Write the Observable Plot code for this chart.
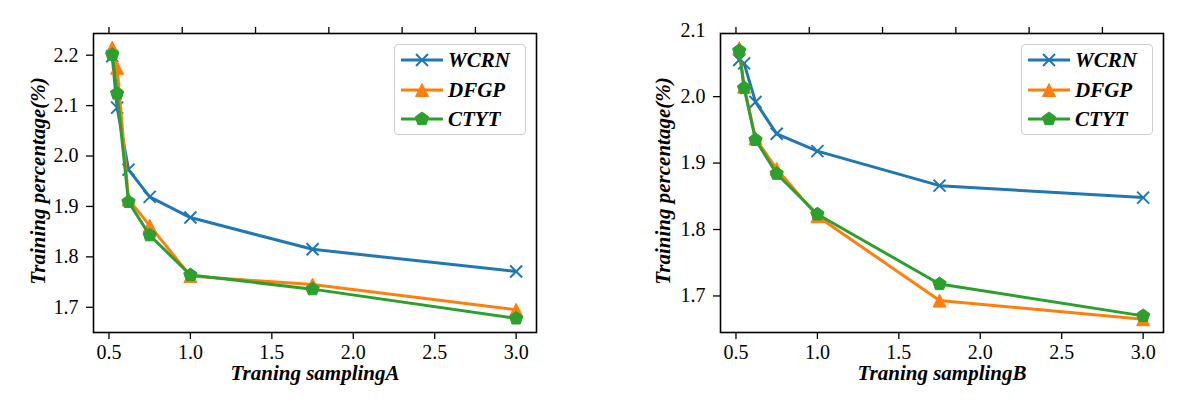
<!DOCTYPE html>
<html>
<head>
<meta charset="utf-8">
<script src="https://cdn.jsdelivr.net/npm/d3@7"></script>
<script src="https://cdn.jsdelivr.net/npm/@observablehq/plot@0.6"></script>
<style>
  html, body { margin: 0; padding: 0; background: white; }
  #wrap { position: relative; width: 1186px; height: 416px; overflow: hidden; }
  .panel { position: absolute; top: 0; width: 593px; height: 416px; }
  .panel svg text { font-family: "Liberation Serif", "Times New Roman", serif; }
  .panel svg g[aria-label*="tick label"] text, .panel svg g[aria-label*="tick label"] { font-size: 20px; font-family: "Liberation Serif", "Times New Roman", serif; font-variant: normal; }
  .legend { position: absolute; box-sizing: border-box; width: 132px; height: 91px; top: 44px;
            border: 1px solid #cfcfcf; border-radius: 4px; background: rgba(255,255,255,0.85); }
  .legend .row { position: absolute; left: 6px; height: 22px; display: flex; align-items: center; }
  .legend .row span { font-family: "Liberation Serif", "Times New Roman", serif; font-weight: bold; font-style: italic;
                      font-size: 21px; margin-left: 5px; line-height: 22px; color: black; }
</style>
</head>
<body>
<div id="wrap"></div>
<script>
// ---------------- data ----------------
const seriesNames = ["WCRN", "DFGP", "CTYT"];
const seriesColors = ["#1f77b4", "#ff7f0e", "#2ca02c"];

const samplingX = [0.52, 0.55, 0.62, 0.75, 1.0, 1.75, 3.0];

const wcrnA = [2.198, 2.096, 1.973, 1.919, 1.878, 1.815, 1.771];
const dfgpA = [2.215, 2.175, 1.914, 1.862, 1.762, 1.745, 1.695];
const ctytA = [2.201, 2.124, 1.909, 1.843, 1.764, 1.736, 1.678];

const wcrnB = [2.055, 2.050, 1.992, 1.944, 1.918, 1.866, 1.848];
const dfgpB = [2.073, 2.015, 1.937, 1.891, 1.820, 1.693, 1.665];
const ctytB = [2.069, 2.013, 1.935, 1.884, 1.823, 1.718, 1.670];

const xTicks = [0.5, 1.0, 1.5, 2.0, 2.5, 3.0];
const topTicks = [0.5, 0.95, 1.4, 1.85, 2.3, 2.75];
const yTicksA = [1.7, 1.8, 1.9, 2.0, 2.1, 2.2];
const yTickMarksB = [1.7, 1.8, 1.9, 2.0];
const yTickLabelsB = [1.7, 1.8, 1.9, 2.0, 2.1];

const yTitle = "Training percentage(%)";
const xTitleA = "Traning samplingA";
const xTitleB = "Traning samplingB";

// ---------------- symbols ----------------
const crossSym = { draw(ctx, size) { const r = Math.sqrt(size / Math.PI);
  ctx.moveTo(-r, -r); ctx.lineTo(r, r); ctx.moveTo(-r, r); ctx.lineTo(r, -r); } };
const triSym = { draw(ctx, size) { const r = Math.sqrt(size / Math.PI);
  ctx.moveTo(0, -r); ctx.lineTo(-r, r); ctx.lineTo(r, r); ctx.closePath(); } };
const pentSym = { draw(ctx, size) { const r = Math.sqrt(size / Math.PI);
  for (let k = 0; k < 5; k++) { const a = (-90 + 72 * k) * Math.PI / 180;
    const px = r * Math.cos(a), py = r * Math.sin(a);
    if (k === 0) ctx.moveTo(px, py); else ctx.lineTo(px, py); } ctx.closePath(); } };
const symbols = [crossSym, triSym, pentSym];

const serif = "Liberation Serif";

function seriesMarks(valuesList) {
  const marks = [];
  valuesList.forEach((vals, s) => {
    const rows = samplingX.map((x, i) => ({ x, y: vals[i] }));
    const c = seriesColors[s];
    marks.push(Plot.line(rows, { x: "x", y: "y", stroke: c, strokeWidth: 3 }));
    if (s === 0) {
      marks.push(Plot.dot(rows, { x: "x", y: "y", symbol: symbols[s], r: 6, stroke: c, strokeWidth: 2, fill: "none" }));
    } else {
      marks.push(Plot.dot(rows, { x: "x", y: "y", symbol: symbols[s], r: s === 1 ? 6.5 : 7, stroke: c, strokeWidth: 1, fill: c }));
    }
  });
  return marks;
}

function makeChart(opts) {
  return Plot.plot({
    width: 593, height: 416,
    marginLeft: opts.ml, marginRight: opts.mr, marginTop: 33, marginBottom: 84,
    style: { fontFamily: serif, fontSize: "20px", color: "black", background: "white", overflow: "visible" },
    x: { domain: [0.405, 3.125] },
    y: { domain: opts.ydomain },
    marks: [
      ...seriesMarks(opts.series),
      Plot.frame({ stroke: "black", strokeWidth: 1.6 }),
      Plot.axisX({ anchor: "bottom", ticks: xTicks, tickFormat: d3.format(".1f"), tickSize: 7, tickPadding: 5,
                   fontSize: 20, fontFamily: serif, strokeWidth: 1.3, label: null }),
      Plot.axisX({ anchor: "top", ticks: topTicks, tickFormat: () => "", tickSize: 7, strokeWidth: 1.3, label: null }),
      Plot.axisY({ anchor: "left", ticks: opts.yTickMarks, tickFormat: () => "", tickSize: 7, strokeWidth: 1.3, label: null }),
      Plot.axisY({ anchor: "left", ticks: opts.yTickLabels, tickFormat: d3.format(".1f"), tickSize: 0, tickPadding: 15,
                   fontSize: 20, fontFamily: serif, label: null }),
      Plot.text([opts.xTitle], { text: d => d, frameAnchor: "bottom", dy: 41, lineAnchor: "middle", textAnchor: "middle",
                   fontFamily: serif, fontSize: 21, fontWeight: "bold", fontStyle: "italic", fill: "black" }),
      Plot.text([yTitle], { text: d => d, frameAnchor: "left", dx: opts.ytdx, dy: -2, rotate: -90, textAnchor: "middle",
                   lineAnchor: "middle", fontFamily: serif, fontSize: 21, fontWeight: "bold", fontStyle: "italic", fill: "black" })
    ]
  });
}

function makeLegend(left) {
  const lg = document.createElement("div");
  lg.className = "legend";
  lg.style.left = left + "px";
  const rowCenters = [15, 44.5, 74];
  seriesNames.forEach((name, s) => {
    const row = document.createElement("div");
    row.className = "row";
    row.style.top = (rowCenters[s] - 11) + "px";
    const c = seriesColors[s];
    let mk;
    if (s === 0) mk = `<path d="M15,5L27,17M15,17L27,5" stroke="${c}" stroke-width="2" fill="none"/>`;
    else if (s === 1) mk = `<path d="M21,4.5L14.5,17.5L27.5,17.5Z" fill="${c}" stroke="${c}"/>`;
    else {
      const pts = d3.range(5).map(k => { const a = (-90 + 72 * k) * Math.PI / 180; return [21 + 7 * Math.cos(a), 11 + 7 * Math.sin(a)]; });
      mk = `<polygon points="${pts.map(p => p.join(",")).join(" ")}" fill="${c}" stroke="${c}"/>`;
    }
    row.innerHTML = `<svg width="42" height="22"><line x1="0" y1="11" x2="42" y2="11" stroke="${c}" stroke-width="3"/>${mk}</svg><span>${name}</span>`;
    lg.appendChild(row);
  });
  return lg;
}

const wrap = document.getElementById("wrap");

const pA = document.createElement("div"); pA.className = "panel"; pA.style.left = "0px";
pA.appendChild(makeChart({ ml: 93, mr: 57, ydomain: [1.650, 2.243], series: [wcrnA, dfgpA, ctytA],
  yTickMarks: yTicksA, yTickLabels: yTicksA, xTitle: xTitleA, ytdx: -55 }));
pA.appendChild(makeLegend(394));
wrap.appendChild(pA);

const pB = document.createElement("div"); pB.className = "panel"; pB.style.left = "593px";
pB.appendChild(makeChart({ ml: 127, mr: 23, ydomain: [1.645, 2.095], series: [wcrnB, dfgpB, ctytB],
  yTickMarks: yTickMarksB, yTickLabels: yTickLabelsB, xTitle: xTitleB, ytdx: -57 }));
pB.appendChild(makeLegend(428));
wrap.appendChild(pB);
</script>
</body>
</html>
